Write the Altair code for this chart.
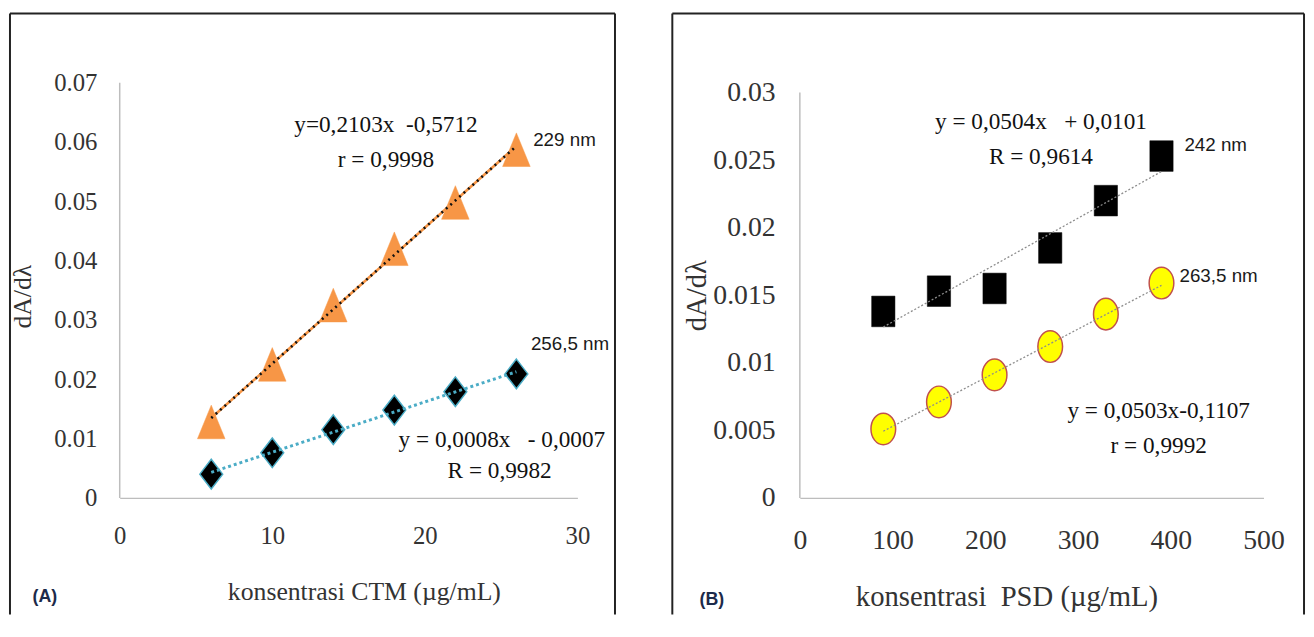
import altair as alt
import pandas as pd

# ---------------- data ----------------
ctm_x = [6, 10, 14, 18, 22, 26]
ctm_229 = [0.0128, 0.0225, 0.0325, 0.0420, 0.0498, 0.0587]
ctm_2565 = [0.0040, 0.0076, 0.0115, 0.0148, 0.0179, 0.0209]

psd_x = [90, 150, 210, 270, 330, 390]
psd_242 = [0.0138, 0.0153, 0.0155, 0.0185, 0.0220, 0.0253]
psd_2635 = [0.0051, 0.0071, 0.0091, 0.0112, 0.0136, 0.0159]

ctm_xticks = [0, 10, 20, 30]
ctm_yticks = [0, 0.01, 0.02, 0.03, 0.04, 0.05, 0.06, 0.07]
psd_xticks = [0, 100, 200, 300, 400, 500]
psd_yticks = [0, 0.005, 0.01, 0.015, 0.02, 0.025, 0.03]

# annotations (anchored in data units)
a_eq_text = ["y=0,2103x\u00a0\u00a0-0,5712", "r = 0,9998",
             "y = 0,0008x\u00a0\u00a0\u00a0- 0,0007", "R = 0,9982"]
a_eq_x = [17.45, 17.45, 25.05, 24.9]
a_eq_y = [0.0628, 0.0570, 0.0098, 0.0045]
a_nm_text = ["229 nm", "256,5 nm"]
a_nm_x = [27.1, 26.95]
a_nm_y = [0.0603, 0.0260]

b_eq_text = ["y = 0,0504x\u00a0\u00a0\u00a0+ 0,0101", "R = 0,9614",
             "y = 0,0503x-0,1107", "r = 0,9992"]
b_eq_x = [260, 260, 387, 387]
b_eq_y = [0.0278, 0.02524, 0.0064, 0.0038]
b_nm_text = ["242 nm", "263,5 nm"]
b_nm_x = [414.7, 409.4]
b_nm_y = [0.0261, 0.0164]

SERIF = "Liberation Serif"
SANS = "Liberation Sans"
ORANGE = "#F79646"
TEAL = "#4BACC6"
AXIS_GREY = "#bdbdbd"
LABEL = "#333333"

TRI = "M0,-1L0.82,1L-0.82,1Z"
DIA = "M0,-1L0.77,0L0,1L-0.77,0Z"
SQR = "M-0.76,-1L0.76,-1L0.76,1L-0.76,1Z"
CIR = "M-0.78,0A0.78,1,0,1,1,0.78,0A0.78,1,0,1,1,-0.78,0Z"

one = pd.DataFrame({"k": [0]})


def box(left, right, top, bottom):
    c = alt.Chart(one)
    style = dict(color="#222222", strokeWidth=2)
    return alt.layer(
        c.mark_rule(**style).encode(x=alt.value(left), y=alt.value(top), y2=alt.value(bottom)),
        c.mark_rule(**style).encode(x=alt.value(right), y=alt.value(top), y2=alt.value(bottom)),
        c.mark_rule(**style).encode(x=alt.value(left), x2=alt.value(right), y=alt.value(top)),
    )


def panel(xs, y1, y2, xdom, ydom, xt, yt, xfmt, yfmt, xtitle, w, h, fs, lp_y, lp_x,
          xtx, xty, ytx, yty, eq, nm, letter, letter_xy, series, ytop):
    xenc = alt.X("x:Q", scale=alt.Scale(domain=xdom, nice=False, zero=False),
                 axis=alt.Axis(values=xt, format=xfmt, title=xtitle,
                               labelFont=SERIF, titleFont=SERIF,
                               labelFontSize=fs, titleFontSize=fs + 1, labelPadding=lp_x,
                               titleX=xtx, titleY=xty, titleAnchor="start", titleAlign="center",
                               titleBaseline="middle", labelFlush=False))
    yenc = alt.Y("y:Q", scale=alt.Scale(domain=ydom, nice=False, zero=False),
                 axis=alt.Axis(values=yt, format=yfmt, title="dA/dλ",
                               labelFont=SERIF, titleFont=SERIF, domain=False,
                               labelFontSize=fs, titleFontSize=fs + 1, labelPadding=lp_y,
                               titleX=ytx, titleY=yty, titleAngle=270, titleAlign="center",
                               titleBaseline="middle", labelFlush=False))
    d1 = pd.DataFrame({"x": xs, "y": y1})
    d2 = pd.DataFrame({"x": xs, "y": y2})
    layers = []
    # y axis line from 0 up to the top tick (drawn through the scales)
    ax = pd.DataFrame({"x": [xdom[0]], "y": [0], "y2": [ytop]})
    layers.append(alt.Chart(ax).mark_rule(color=AXIS_GREY, strokeWidth=1.5)
                  .encode(x=xenc, y=yenc, y2="y2:Q"))
    (s1, s2) = series
    for d, s in ((d1, s1), (d2, s2)):
        layers.append(alt.Chart(d).mark_point(shape=s["shape"], size=s["size"], filled=True,
                                              fill=s["fill"], stroke=s["stroke"],
                                              strokeWidth=s["sw"], opacity=1)
                      .encode(x=xenc, y=yenc))
    for d, s in ((d1, s1), (d2, s2)):
        for ln in s["lines"]:
            layers.append(alt.Chart(d).transform_regression("x", "y")
                          .mark_line(**ln).encode(x=xenc, y=yenc))
    eqd = pd.DataFrame({"x": eq[1], "y": eq[2], "t": eq[0]})
    nmd = pd.DataFrame({"x": nm[1], "y": nm[2], "t": nm[0]})
    ld = pd.DataFrame({"x": [letter_xy[0]], "y": [letter_xy[1]], "t": [letter]})
    layers.append(alt.Chart(eqd).mark_text(font=SERIF, fontSize=23.5, color="#111111",
                                           align="center", baseline="middle")
                  .encode(x=xenc, y=yenc, text="t:N"))
    layers.append(alt.Chart(nmd).mark_text(font=SANS, fontSize=19, color="#1a1a1a",
                                           align="left", baseline="middle")
                  .encode(x=xenc, y=yenc, text="t:N"))
    layers.append(alt.Chart(ld).mark_text(font=SANS, fontSize=18, fontWeight="bold",
                                          color="#1c2a4a", align="center", baseline="middle")
                  .encode(x=xenc, y=yenc, text="t:N"))
    return alt.layer(*layers).properties(width=w, height=h)


tri = dict(shape=TRI, size=1156, fill=ORANGE, stroke=ORANGE, sw=0.5,
           lines=[dict(color=ORANGE, strokeWidth=2.6),
                  dict(color="#111111", strokeWidth=2.6, strokeDash=[2, 4])])
dia = dict(shape=DIA, size=900, fill="#000000", stroke=TEAL, sw=1.5,
           lines=[dict(color=TEAL, strokeWidth=3, strokeDash=[3, 3])])
sqr = dict(shape=SQR, size=961, fill="#000000", stroke="#000000", sw=0.5,
           lines=[dict(color="#8c8c8c", strokeWidth=1.3, strokeDash=[2, 2])])
cir = dict(shape=CIR, size=1024, fill="#FFFF00", stroke="#C0504D", sw=1.5,
           lines=[dict(color="#8c8c8c", strokeWidth=1.3, strokeDash=[2, 2])])

# plot areas: A spans y 79..499, B's top tick (0.03) sits at y 89 on the same 420px height
H = 420
b_top = 0.03 * H / 410.0

pA = panel(ctm_x, ctm_229, ctm_2565, [0, 30], [0, 0.07], ctm_xticks, ctm_yticks, "d", ".2~f",
           "konsentrasi CTM (µg/mL)", 463, H, 25, 23, 26,
           247, 95, -98, 216,
           (a_eq_text, a_eq_x, a_eq_y), (a_nm_text, a_nm_x, a_nm_y),
           "(A)", (-4.9, -0.0168), (tri, dia), 0.07)
pA = alt.layer(pA, box(-111, 501, -70, 538))

pB = panel(psd_x, psd_242, psd_2635, [0, 500], [0, b_top], psd_xticks, psd_yticks, "d", ".3~f",
           "konsentrasi\u00a0\u00a0PSD (µg/mL)", 469, H, 28, 25, 29,
           209, 100, -104, 215,
           (b_eq_text, b_eq_x, b_eq_y), (b_nm_text, b_nm_x, b_nm_y),
           "(B)", (-94.9, -0.0076), (sqr, cir), 0.03)
pB = alt.layer(pB, box(-129, 510, -70, 538))

chart = (alt.hconcat(pA, pB, spacing=54)
         .properties(padding={"left": 0, "top": 0, "right": 0, "bottom": 0})
         .configure(background="white")
         .configure_view(stroke="transparent")
         .configure_axis(grid=False, ticks=False, domainColor=AXIS_GREY, domainWidth=1.5,
                         labelFont=SERIF, labelColor=LABEL, titleFont=SERIF,
                         titleColor=LABEL, titleFontWeight="normal"))

chart.save("out.html", embed_options={"renderer": "svg", "actions": False})
